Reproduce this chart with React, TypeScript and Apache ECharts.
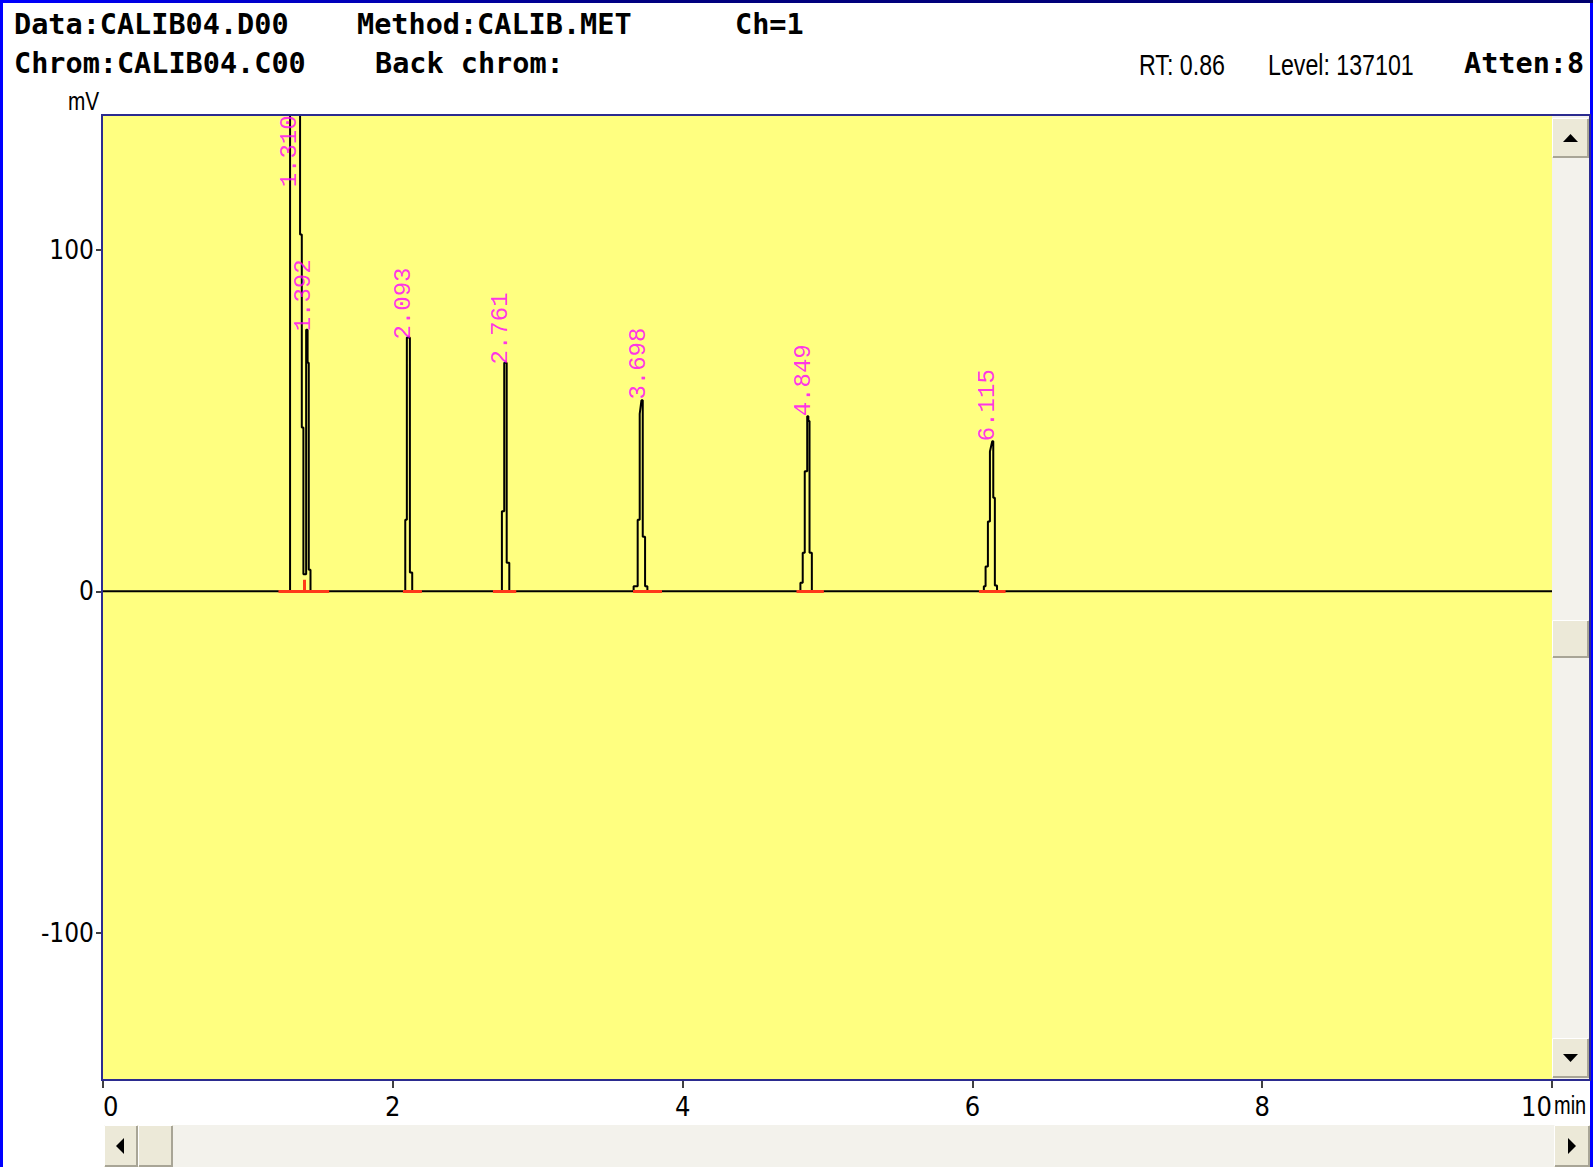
import React, { useEffect, useRef } from "react";
import * as echarts from "echarts";

// ---- data ----
const xTicks = [0, 2, 4, 6, 8, 10];
const yTicks = [-100, 0, 100];

const peakRTs = ["1.310", "1.392", "2.093", "2.761", "3.698", "4.849", "6.115"];
const labelX = [1.286, 1.383, 2.074, 2.742, 3.697, 4.831, 6.103];
const labelY = [118.4, 76.2, 73.8, 66.5, 56.2, 51.3, 44.0];

// 1.310 (off scale) with 1.392 rider
const peakA = [
  [1.291, 0], [1.291, 260], [1.305, 520], [1.32, 480], [1.34, 360], [1.36, 300],
  [1.36, 104.6], [1.372, 104.6], [1.372, 48], [1.383, 48], [1.383, 5], [1.402, 5],
  [1.402, 76.7], [1.412, 76.7], [1.412, 67], [1.42, 67], [1.42, 6.3], [1.432, 6.3], [1.432, 0],
];
const peakB = [
  [2.086, 0], [2.086, 21], [2.097, 21], [2.097, 74.4], [2.118, 74.4], [2.118, 5.5], [2.134, 5.5], [2.134, 0],
];
const peakC = [
  [2.753, 0], [2.753, 23.5], [2.769, 23.5], [2.769, 67], [2.786, 67], [2.786, 8.4], [2.804, 8.4], [2.804, 0],
];
const peakD = [
  [3.662, 0], [3.662, 1.5], [3.69, 1.5], [3.69, 21], [3.704, 21], [3.704, 52], [3.716, 56], [3.725, 56],
  [3.725, 16], [3.741, 16], [3.741, 1.5], [3.757, 1.5], [3.757, 0],
];
const peakE = [
  [4.813, 0], [4.813, 2.5], [4.829, 2.5], [4.829, 11.3], [4.843, 11.3], [4.843, 35.2], [4.86, 35.2],
  [4.86, 51.3], [4.868, 51.3], [4.868, 49.9], [4.876, 49.9], [4.876, 11.3], [4.892, 11.3], [4.892, 0],
];
const peakF = [
  [6.079, 0], [6.079, 1.5], [6.091, 1.5], [6.091, 7.3], [6.107, 7.3], [6.107, 20.5], [6.121, 20.5],
  [6.121, 41], [6.137, 44], [6.144, 44], [6.144, 27.4], [6.155, 27.4], [6.155, 1.7], [6.17, 1.7], [6.17, 0],
];

const integrationStart = [1.211, 2.07, 2.691, 3.658, 4.786, 6.045];
const integrationEnd = [1.561, 2.201, 2.852, 3.858, 4.975, 6.229];
const dropLineT = [1.39];
const dropLineH = [3.4];

const headerRow1 = ["Data:CALIB04.D00", "Method:CALIB.MET", "Ch=1"];
const headerRow2 = ["Chrom:CALIB04.C00", "Back chrom:"];
const statusTexts = ["RT: 0.86", "Level: 137101"];
const attenText = "Atten:8";

const MONO_BOLD = "'DejaVu Sans Mono', 'Liberation Mono', monospace";
const NARROW = "'DejaVu Sans Condensed', 'Liberation Sans Narrow', 'Liberation Sans', Arial, sans-serif";
const SANS = "'Liberation Sans', Arial, sans-serif";

function button(x: number, y: number, w: number, h: number): any[] {
  return [
    { type: "rect", z: 30, shape: { x, y, width: w, height: h }, style: { fill: "#ece9d8" } },
    {
      type: "polyline", z: 31,
      shape: { points: [[x + 0.5, y + h - 1], [x + 0.5, y + 0.5], [x + w - 1, y + 0.5]] },
      style: { stroke: "#ffffff", lineWidth: 1, fill: null },
    },
    {
      type: "polyline", z: 31,
      shape: { points: [[x + 1, y + h - 1], [x + w - 1, y + h - 1], [x + w - 1, y + 1]] },
      style: { stroke: "#a8a596", lineWidth: 2, fill: null },
    },
  ];
}

function narrowText(text: string, x: number, y: number, size: number): any {
  return {
    type: "text", z: 40, x, y, scaleX: 0.8, scaleY: 1,
    style: { text, fontFamily: SANS, fontSize: size, fill: "#000", verticalAlign: "middle" },
  };
}

export default function App() {
  const ref = useRef<HTMLDivElement>(null);
  useEffect(() => {
    if (!ref.current) return;
    const chart = echarts.init(ref.current, undefined, { renderer: "svg" });

    const trace = [[0, 0], ...peakA, ...peakB, ...peakC, ...peakD, ...peakE, ...peakF, [10, 0]];
    const redMarks = integrationStart
      .map((s, i) => ({ coords: [[s, 0], [integrationEnd[i], 0]] }))
      .concat(dropLineT.map((t, i) => ({ coords: [[t, 0], [t, dropLineH[i]]] })));

    const graphics: any[] = [];
    const row1X = [14, 357, 735];
    headerRow1.forEach((t, i) =>
      graphics.push({
        type: "text", z: 40, x: row1X[i], y: 24,
        style: { text: t, fontFamily: MONO_BOLD, fontWeight: "bold", fontSize: 28.5, fill: "#000", verticalAlign: "middle" },
      })
    );
    const row2X = [14, 375];
    headerRow2.forEach((t, i) =>
      graphics.push({
        type: "text", z: 40, x: row2X[i], y: 63.5,
        style: { text: t, fontFamily: MONO_BOLD, fontWeight: "bold", fontSize: 28.5, fill: "#000", verticalAlign: "middle" },
      })
    );
    const statusX = [1139, 1268];
    statusTexts.forEach((t, i) => graphics.push(narrowText(t, statusX[i], 65, 29)));
    graphics.push({
      type: "text", z: 40, x: 1464, y: 63.5,
      style: { text: attenText, fontFamily: MONO_BOLD, fontWeight: "bold", fontSize: 28.5, fill: "#000", verticalAlign: "middle" },
    });
    graphics.push(narrowText("mV", 68, 101, 26));
    graphics.push(narrowText("min", 1554, 1106, 25));

    // vertical scrollbar
    graphics.push({ type: "rect", z: 29, shape: { x: 1552, y: 116, width: 38, height: 963 }, style: { fill: "#f3f2ec" } });
    graphics.push(...button(1552, 118, 37, 40));
    graphics.push({ type: "polygon", z: 32, shape: { points: [[1563, 142], [1578, 142], [1570.5, 134]] }, style: { fill: "#000" } });
    graphics.push(...button(1552, 620, 37, 38));
    graphics.push(...button(1552, 1038, 37, 40));
    graphics.push({ type: "polygon", z: 32, shape: { points: [[1563, 1054], [1578, 1054], [1570.5, 1062]] }, style: { fill: "#000" } });

    // horizontal scrollbar
    graphics.push({ type: "rect", z: 29, shape: { x: 104, y: 1125, width: 1486, height: 42 }, style: { fill: "#f3f2ec" } });
    graphics.push(...button(104, 1125, 34, 42));
    graphics.push({ type: "polygon", z: 32, shape: { points: [[124, 1138], [124, 1154], [116, 1146]] }, style: { fill: "#000" } });
    graphics.push(...button(138, 1125, 35, 42));
    graphics.push(...button(1554, 1125, 36, 42));
    graphics.push({ type: "polygon", z: 32, shape: { points: [[1568, 1138], [1568, 1154], [1576, 1146]] }, style: { fill: "#000" } });

    // plot frame
    graphics.push({
      type: "rect", z: 35, shape: { x: 102, y: 115, width: 1488, height: 965 },
      style: { fill: "transparent", stroke: "#2b2b8f", lineWidth: 2 },
    });

    chart.setOption({
      animation: false,
      backgroundColor: "transparent",
      grid: {
        left: 103, top: 115, width: 1449, height: 965,
        show: true, backgroundColor: "#ffff80", borderWidth: 0,
      },
      xAxis: {
        type: "value", min: 0, max: 10, interval: 2,
        axisLine: { show: false, onZero: false },
        splitLine: { show: false },
        axisTick: { show: true, length: 8, lineStyle: { color: "#000", width: 1.5 } },
        axisLabel: {
          show: true, margin: 13, color: "#000", fontFamily: NARROW, fontSize: 27,
          alignMinLabel: "left", alignMaxLabel: "right",
          customValues: xTicks,
        },
      },
      yAxis: {
        type: "value", min: -143.2, max: 139.6,
        axisLine: { show: false },
        splitLine: { show: false },
        axisTick: { show: true, length: 7, lineStyle: { color: "#000", width: 1.5 }, customValues: yTicks },
        axisLabel: { show: true, margin: 9, color: "#000", fontFamily: NARROW, fontSize: 26, customValues: yTicks },
      },
      graphic: { elements: graphics },
      series: [
        {
          type: "line", data: trace, showSymbol: false, symbol: "none", clip: true, z: 2,
          lineStyle: { color: "#000", width: 2 }, silent: true,
        },
        {
          type: "lines", coordinateSystem: "cartesian2d", data: redMarks, z: 3, silent: true,
          lineStyle: { color: "#ff3a1a", width: 3, opacity: 1, curveness: 0 },
        },
        {
          type: "scatter", z: 5, silent: true, symbolSize: 0,
          data: labelX.map((x, i) => [x, labelY[i], peakRTs[i]]),
          label: {
            show: true, position: "inside", rotate: 90, align: "left", verticalAlign: "middle",
            formatter: (p: any) => p.value[2],
            color: "#ff00ff", fontFamily: "'Liberation Mono', 'DejaVu Sans Mono', monospace", fontSize: 24,
          },
        },
      ],
    });
    return () => chart.dispose();
  }, []);

  return (
    <div style={{ position: "fixed", left: 0, top: 0, width: 1593, height: 1167, background: "#0000ff", overflow: "hidden" }}>
      <div style={{ position: "absolute", left: 0, top: 0, width: 1593, height: 3, background: "linear-gradient(to right, #0000ff, #000080 40%, #000070)" }} />
      <div style={{ position: "absolute", left: 3, top: 3, width: 1587, height: 1164, background: "#ffffff" }} />
      <div ref={ref} style={{ position: "absolute", left: 0, top: 0, width: 1593, height: 1167 }} />
    </div>
  );
}
